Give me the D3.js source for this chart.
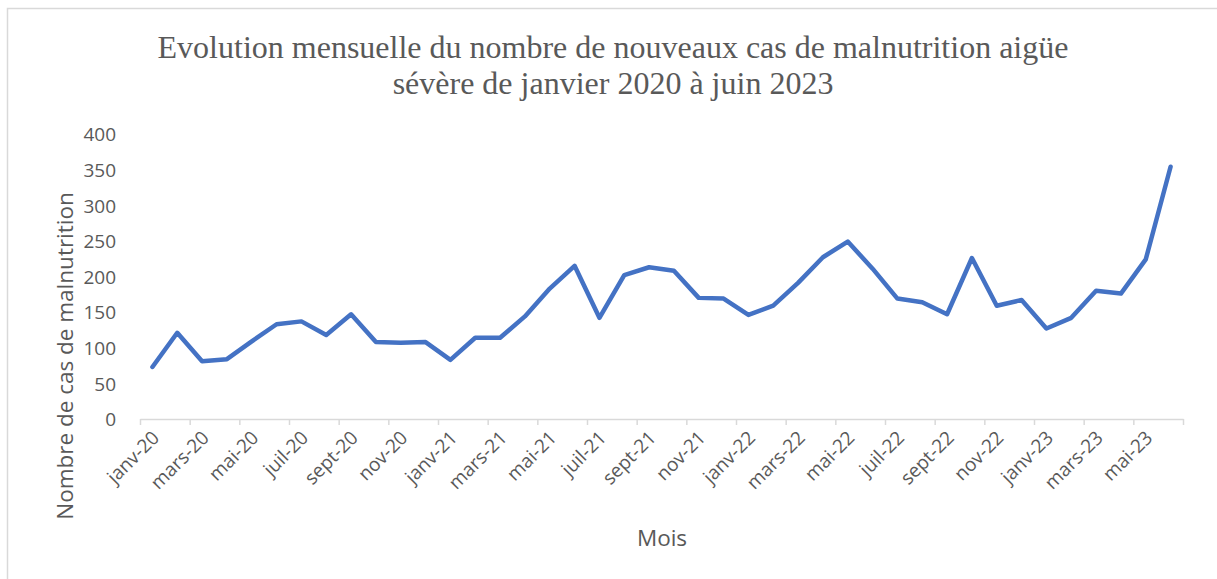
<!DOCTYPE html>
<html>
<head>
<meta charset="utf-8">
<script src="https://cdn.jsdelivr.net/npm/d3@7"></script>
<style>
  body { margin: 0; background: #fff; }
  svg { display: block; }
  .axis text { fill: #595959; font-family: "Open Sans", sans-serif; font-size: 19px; }
  .title { fill: #595959; font-family: "Liberation Serif", "Times New Roman", serif; font-size: 32px; }
  .label { fill: #595959; font-family: "Open Sans", sans-serif; font-size: 22.5px; }
</style>
</head>
<body>
<svg id="chart" width="1217" height="579"></svg>
<script>
// Monthly new severe acute malnutrition cases, Jan 2020 - Jun 2023
const MONTH_NAMES = ["janv", "févr", "mars", "avr", "mai", "juin", "juil", "août", "sept", "oct", "nov", "déc"];
const YEARS = ["20", "21", "22", "23"];
const MONTHS = YEARS.flatMap((yr) => MONTH_NAMES.map((m) => `${m}-${yr}`)).slice(0, 42);

const CASES = [
  73, 121, 81, 84, 109, 133, 137, 118, 147, 108, 107, 108,
  83, 114, 114, 144, 183, 215, 142, 202, 213, 208, 170, 169,
  146, 159, 191, 227, 249, 211, 169, 164, 147, 226, 159, 167,
  127, 142, 180, 176, 224, 354,
];

const Y_TICKS = [0, 50, 100, 150, 200, 250, 300, 350, 400];
const X_LABELS = MONTHS.filter((d, i) => i % 2 === 0);

const svg = d3.select("#chart");
const W = +svg.attr("width");
const H = +svg.attr("height");

// outer chart border
svg.append("rect")
  .attr("x", 7.5).attr("y", 8.5)
  .attr("width", W).attr("height", H)
  .attr("fill", "none").attr("stroke", "#d9d9d9").attr("stroke-width", 1.5);

const plot = { left: 140, right: 1183, top: 134, bottom: 419 };

const x = d3.scaleBand().domain(MONTHS).range([plot.left, plot.right]);
const xi = d3.scaleLinear().domain([0, MONTHS.length]).range([plot.left, plot.right]);
const y = d3.scaleLinear().domain([0, 400]).range([plot.bottom, plot.top]);

// title
const title = svg.append("text").attr("class", "title").attr("text-anchor", "middle");
title.append("tspan").attr("x", 613).attr("y", 58)
  .text("Evolution mensuelle du nombre de nouveaux cas de malnutrition aigüe");
title.append("tspan").attr("x", 613).attr("y", 94)
  .text("sévère de janvier 2020 à juin 2023");

// y axis (labels only)
const gy = svg.append("g").attr("class", "axis y")
  .attr("transform", `translate(${plot.left},0)`)
  .call(d3.axisLeft(y).tickValues(Y_TICKS).tickSize(0).tickPadding(24));
gy.select(".domain").remove();
gy.selectAll("text").attr("dy", "0.36em");

// x axis line + boundary ticks every 2 months
const gxl = svg.append("g").attr("class", "axis x-line")
  .attr("transform", `translate(0,${plot.bottom})`)
  .call(d3.axisBottom(xi).tickValues(d3.range(0, MONTHS.length + 1, 2)).tickFormat("").tickSize(6).tickSizeOuter(0));
gxl.select(".domain").attr("stroke", "#d9d9d9").attr("stroke-width", 1.5);
gxl.selectAll(".tick line").attr("stroke", "#d9d9d9").attr("stroke-width", 1.5);

// x labels, rotated
const gx = svg.append("g").attr("class", "axis x")
  .attr("transform", `translate(0,${plot.bottom})`)
  .call(d3.axisBottom(x).tickValues(X_LABELS).tickSize(0));
gx.select(".domain").remove();
gx.selectAll("text")
  .attr("text-anchor", "end")
  .attr("dy", null)
  .attr("y", 0)
  .attr("transform", "translate(8,20) rotate(-45)");

// axis titles
svg.append("text").attr("class", "label")
  .attr("text-anchor", "middle")
  .attr("transform", "translate(73,356) rotate(-90)")
  .text("Nombre de cas de malnutrition");

svg.append("text").attr("class", "label")
  .attr("text-anchor", "middle")
  .attr("x", 662).attr("y", 546)
  .text("Mois");

// line
const line = d3.line()
  .x((d, i) => x(MONTHS[i]) + x.bandwidth() / 2)
  .y((d) => y(d));

svg.append("path")
  .datum(CASES)
  .attr("fill", "none")
  .attr("stroke", "#4472c4")
  .attr("stroke-width", 4.5)
  .attr("stroke-linejoin", "round")
  .attr("stroke-linecap", "round")
  .attr("d", line);
</script>
</body>
</html>
